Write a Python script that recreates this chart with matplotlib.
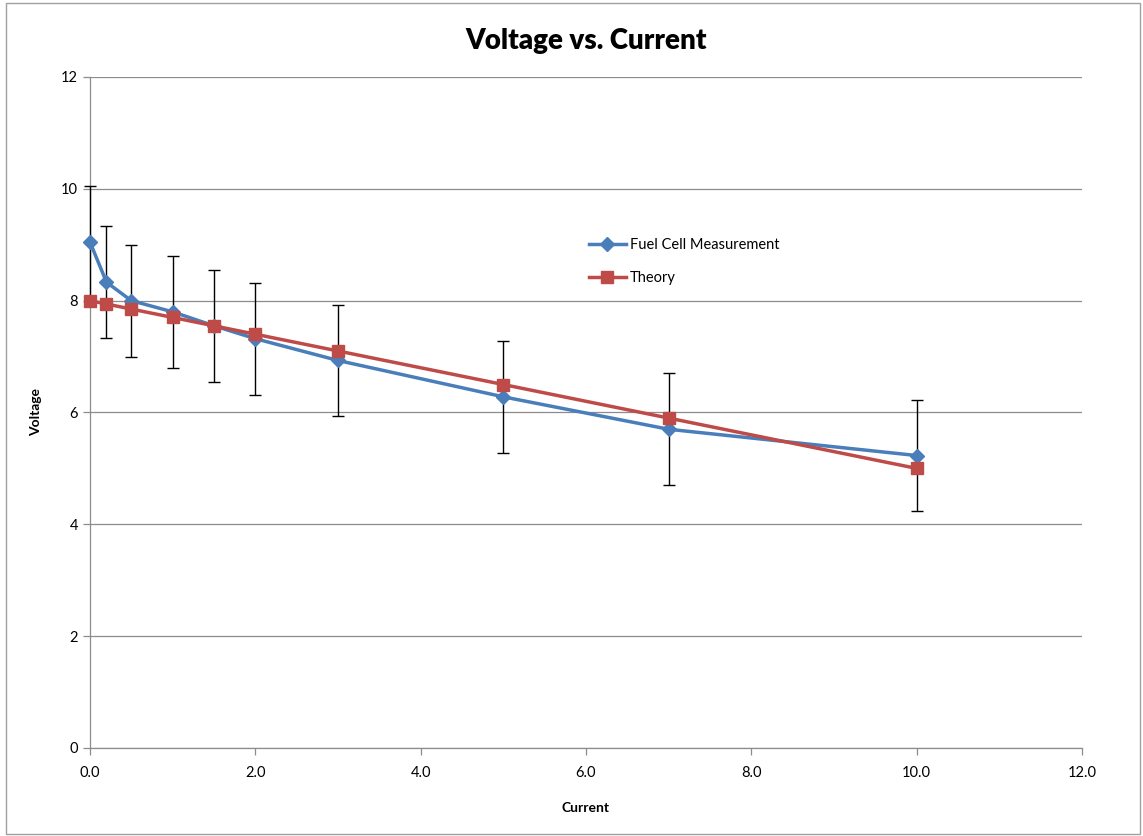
import matplotlib
matplotlib.use("Agg")
import matplotlib.pyplot as plt
from matplotlib.patches import Rectangle

plt.rcParams['font.family'] = ['Lato', 'DejaVu Sans']

current = [0.0, 0.2, 0.5, 1.0, 1.5, 2.0, 3.0, 5.0, 7.0, 10.0]
measured = [9.05, 8.33, 8.0, 7.8, 7.55, 7.32, 6.93, 6.28, 5.7, 5.23]
theory = [8.0, 7.94, 7.85, 7.7, 7.55, 7.4, 7.1, 6.5, 5.9, 5.0]
measured_err = [1.0, 1.0, 1.0, 1.0, 1.0, 1.0, 1.0, 1.0, 1.0, 1.0]
xticks = [0, 2, 4, 6, 8, 10, 12]
yticks = [0, 2, 4, 6, 8, 10, 12]

fig = plt.figure(figsize=(11.43, 8.36), dpi=100)
ax = fig.add_axes([0.0787, 0.1053, 0.8679, 0.8026])

fig.patches.append(Rectangle((6/1143, 2/836), 1134/1143, 831/836, transform=fig.transFigure,
                             fill=False, edgecolor='#a0a0a0', linewidth=1))

blue = '#4A7EBB'
red = '#BE4B48'

eb = ax.errorbar(current, measured, yerr=measured_err, fmt='none', ecolor='black',
                 elinewidth=1, capsize=4, capthick=1, zorder=2.7)
for art in eb.lines[1] + eb.lines[2]:
    art.set_clip_on(False)
ax.plot(current, measured, color=blue, linewidth=2.5, marker='D', markersize=7,
        label='Fuel Cell Measurement', zorder=3, clip_on=False)
ax.plot(current, theory, color=red, linewidth=2.5, marker='s', markersize=9,
        label='Theory', zorder=4, clip_on=False)

ax.set_xlim(0, 12)
ax.set_ylim(0, 12)
ax.set_xticks(xticks)
ax.set_xticklabels([f'{v:.1f}' for v in xticks])
ax.set_yticks(yticks)
ax.set_yticklabels([str(v) for v in yticks])
ax.grid(axis='y', color='#8c8c8c', linewidth=0.9)
ax.set_axisbelow(True)
for s in ['top', 'right']:
    ax.spines[s].set_visible(False)
for s in ['left', 'bottom']:
    ax.spines[s].set_color('#8c8c8c')
    ax.spines[s].set_linewidth(0.9)
ax.tick_params(axis='both', colors='#8c8c8c', labelcolor='black', labelsize=10.5,
               length=5, width=0.9)
ax.tick_params(axis='x', pad=8)

ax.set_title('Voltage vs. Current', fontsize=20, fontweight='heavy', pad=20)
ax.set_xlabel('Current', fontsize=10, fontweight='bold', labelpad=16)
ax.set_ylabel('Voltage', fontsize=10, fontweight='bold', labelpad=14)

leg = ax.legend(loc='upper left', bbox_to_anchor=(0.49, 0.78), frameon=False,
                fontsize=10.5, handlelength=2.5, labelspacing=1.3, handletextpad=0.3)

fig.savefig('out.png', dpi=100)
